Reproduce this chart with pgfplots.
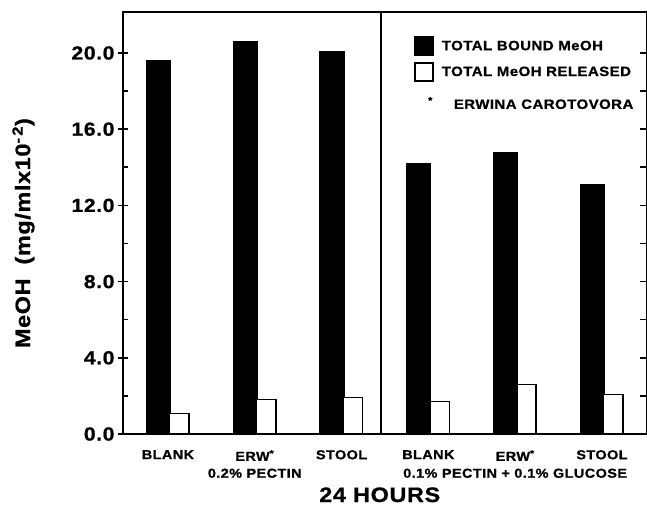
\documentclass[border=0pt]{standalone}
\usepackage{fontspec}
\setmainfont{Liberation Sans}[FakeStretch=1.12, LetterSpace=3, BoldFeatures={FakeBold=0.8}]
\usepackage{pgfplots}
\pgfplotsset{compat=1.18}
\begin{document}
\bfseries
\begin{tikzpicture}
\useasboundingbox (-123bp,-71bp) rectangle (524bp,434bp);
\begin{axis}[
  at={(0,0)}, anchor=south west,
  scale only axis, width=524bp, height=422bp,
  xmin=-0.518, xmax=5.519, ymin=0, ymax=22.15,
  axis line style={line width=1.6bp},
  xtick={0,...,5},
  xticklabels={BLANK, {ERW\textsuperscript{*}\\0.2\% PECTIN}, STOOL, BLANK, {ERW\textsuperscript{*}\\0.1\% PECTIN + 0.1\% GLUCOSE}, STOOL},
  xtick style={draw=none},
  xticklabel style={font=\bfseries\fontsize{13}{17}\selectfont, align=center, anchor=north, inner sep=0pt, yshift=-11bp},
  ytick={0,4,...,20}, ytick pos=left, tick align=center, major tick length=10bp,
  ytick style={line width=1.6bp, black},
  extra y ticks={2,6,10,14,18}, extra y tick labels={},
  extra y tick style={tick align=inside, major tick length=5bp},
  yticklabel style={font=\bfseries\fontsize{19}{20}\selectfont, xshift=0bp, /pgf/number format/.cd, fixed, fixed zerofill, precision=1, assume math mode=true},
  xlabel={24 HOURS},
  xlabel style={at={(axis description cs:0.49,0)}, anchor=base, yshift=-68bp, font=\bfseries\fontsize{21}{22}\selectfont},
  ylabel={MeOH\hspace{14bp}(mg/mlx10\textsuperscript{-\,2})},
  ylabel style={at={(axis description cs:-0.19,0.476)}, anchor=center, font=\bfseries\fontsize{21}{22}\selectfont},
  legend cell align=left,
  legend style={at={(rel axis cs:0.555,0.943)}, anchor=north west, draw=none, fill=none, inner sep=0pt, row sep=6bp, font=\bfseries\fontsize{13.5}{15}\selectfont},
]
\addplot[ybar, bar width=0.28, bar shift=-0.11, fill=black, draw=black, line width=1bp,
  legend image code/.code={\draw[fill=black, draw=black, line width=1bp] (0bp,-9.5bp) rectangle (19bp,9.5bp); \path[draw=none] (25bp,0bp);}]
  coordinates {(0,19.6) (1,20.6) (2,20.1) (3,14.2) (4,14.75) (5,13.1)};
\addlegendentry{TOTAL BOUND MeOH}
\addplot[ybar, bar width=0.224, bar shift=0.13, fill=white, draw=black, line width=1.6bp,
  legend image code/.code={\draw[fill=white, draw=black, line width=1.6bp] (0bp,-9bp) rectangle (18bp,9bp); \path[draw=none] (25bp,0bp);}]
  coordinates {(0,1.08) (1,1.82) (2,1.92) (3,1.71) (4,2.6) (5,2.08)};
\addlegendentry{TOTAL MeOH RELEASED}
\addlegendimage{legend image code/.code={\path[draw=none, fill=none] (0bp,-9.5bp) rectangle (25bp,9.5bp);}}
\addlegendentry{\rule{0pt}{19bp}\llap{\textsuperscript{*}\hspace{9bp}}\hspace{12bp}ERWINA CAROTOVORA}
\addplot[line width=1.6bp, forget plot] coordinates {(2.454,0) (2.454,22.15)};
\end{axis}
\begin{axis}[
  at={(0,0)}, anchor=south west,
  scale only axis, width=524bp, height=422bp,
  xmin=-0.518, xmax=5.519, ymin=0, ymax=22.15,
  hide x axis,
  axis line style={line width=1.6bp},
  ytick={2,4,...,20}, ytick pos=right, yticklabels={},
  tick align=inside, major tick length=7bp,
  ytick style={line width=1.6bp, black},
]
\end{axis}
\end{tikzpicture}
\end{document}
